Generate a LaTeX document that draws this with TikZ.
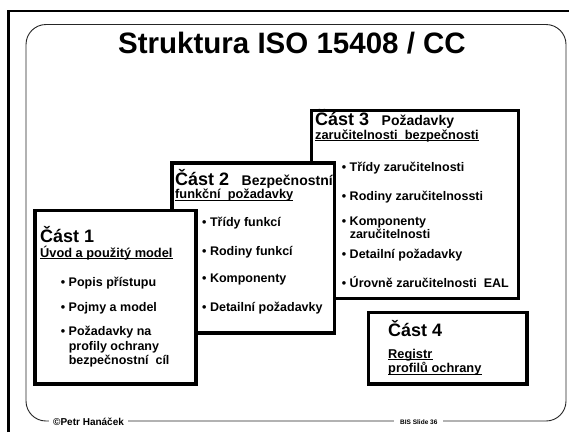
\documentclass[tikz,border=0pt]{standalone}
\usepackage{fontspec}
\setmainfont{Liberation Sans}
\newcommand{\dotitem}{•\ }
\newcommand{\dotindent}{\phantom{•\ }}
\begin{document}
\begin{tikzpicture}[x=1pt,y=-1pt,
  txt/.style={inner sep=0pt, anchor=base west},
  heading/.style={txt, font=\fontsize{29.5}{32}\selectfont\bfseries, anchor=base},
  part/.style={txt, font=\fontsize{18}{20}\selectfont\bfseries},
  partname/.style={txt, font=\fontsize{14}{16}\selectfont\bfseries},
  sub/.style={txt, font=\fontsize{12.8}{14}\selectfont\bfseries},
  item/.style={txt, font=\fontsize{12.5}{14}\selectfont\bfseries},
  panel/.style={draw=black, line width=3.3pt, fill=white},
  uline/.style={line width=0.9pt},
  foot/.style={fill=white, inner ysep=1pt, anchor=base west, font=\bfseries}]
\useasboundingbox (0,0) rectangle (569,432);
\fill[white] (0,0) rectangle (569,432);

% outer slide edge
\draw[line width=2.6pt] (8.5,432) -- (8.5,11) -- (569,11);

% rounded slide frame
\draw[line width=0.9pt, black!85, rounded corners=20pt] (26,24.5) rectangle (566,421);

% title
\node[heading] (title) at (292,53) {Struktura ISO 15408 / CC};

% part 3
\path[panel] (311.5,110.5) rectangle (518.5,298.5);
\node[part] (p3head) at (315,125.5) {Část 3};
\node[partname] (p3name) at (381.5,125.5) {Požadavky};
\node[sub] (p3sub) at (315,139.3) {zaručitelnosti\ \ bezpečnosti};
\draw[uline] ([yshift=-1.6pt]p3sub.base west) -- ([yshift=-1.6pt]p3sub.base east);
\node[item] (p3a) at (341.7,171.5) {\dotitem Třídy zaručitelnosti};
\node[item] (p3b) at (341.7,200) {\dotitem Rodiny zaručitelnossti};
\node[item] (p3c) at (341.7,225) {\dotitem Komponenty};
\node[item] (p3c2) at (341.7,238) {\dotindent zaručitelnosti};
\node[item] (p3d) at (341.7,258.5) {\dotitem Detailní požadavky};
\node[item] (p3e) at (341.7,287.5) {\dotitem Úrovně zaručitelnosti\ \ EAL};

% part 2
\path[panel] (172,163) rectangle (334.5,333);
\node[part] (p2head) at (175,185) {Část 2};
\node[partname] (p2name) at (241.5,185) {Bezpečnostní};
\node[sub] (p2sub) at (175,198.5) {funkční\ \ požadavky};
\draw[uline] ([yshift=-1.6pt]p2sub.base west) -- ([yshift=-1.6pt]p2sub.base east);
\node[item] (p2a) at (202,226.5) {\dotitem Třídy funkcí};
\node[item] (p2b) at (202,255) {\dotitem Rodiny funkcí};
\node[item] (p2c) at (202,282.5) {\dotitem Komponenty};
\node[item] (p2d) at (202,311) {\dotitem Detailní požadavky};

% part 1
\path[panel] (35,210.5) rectangle (196,384);
\node[part] (p1head) at (40,242) {Část 1};
\node[sub] (p1sub) at (40,257) {Úvod a použitý model};
\draw[uline] ([yshift=-1.6pt]p1sub.base west) -- ([yshift=-1.6pt]p1sub.base east);
\node[item] (p1a) at (60.7,286.5) {\dotitem Popis přístupu};
\node[item] (p1b) at (60.7,311) {\dotitem Pojmy a model};
\node[item] (p1c) at (60.7,335.5) {\dotitem Požadavky na};
\node[item] (p1c2) at (60.7,350) {\dotindent profily ochrany};
\node[item] (p1c3) at (60.7,364) {\dotindent bezpečnostní\ \ cíl};

% part 4
\path[panel] (368.5,312.5) rectangle (527,384);
\node[part] (p4head) at (388,336) {Část 4};
\node[sub] (p4a) at (388,358) {Registr};
\draw[uline] ([yshift=-1.6pt]p4a.base west) -- ([yshift=-1.6pt]p4a.base east);
\node[sub] (p4b) at (388,372.5) {profilů ochrany};
\draw[uline] ([yshift=-1.6pt]p4b.base west) -- ([yshift=-1.6pt]p4b.base east);

% footer
\node[foot, inner xsep=4pt, font=\fontsize{10}{12}\selectfont\bfseries] (author) at (49,425.5) {©Petr Hanáček};
\node[foot, inner xsep=6pt, font=\fontsize{6.5}{8}\selectfont\bfseries] (slide) at (394,424) {BIS Slide 36};
\end{tikzpicture}
\end{document}
